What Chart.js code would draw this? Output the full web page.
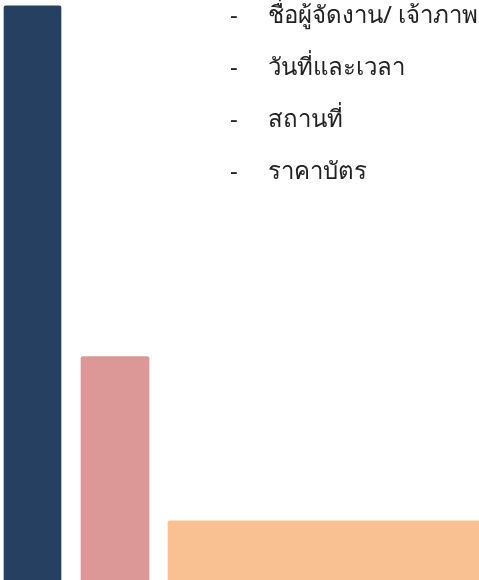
<!DOCTYPE html>
<html>
<head>
<meta charset="utf-8">
<script src="https://cdn.jsdelivr.net/npm/chart.js@4.4.1/dist/chart.umd.min.js"></script>
<style>
  html, body { margin: 0; padding: 0; background: #fff; overflow: hidden; }
  #wrap { position: relative; width: 479px; height: 580px; }
  #chart { position: absolute; left: 0; top: 0; }
  .notes { position: absolute; left: 230px; top: -10px; margin: 0; padding: 0; list-style: none;
    font-family: "Noto Sans", "DejaVu Sans", sans-serif; font-size: 24px; color: #222; }
  .notes li { height: 52px; line-height: 48px; white-space: nowrap; }
  .notes li span.dash { display: inline-block; width: 38px; }
</style>
</head>
<body>
<div id="wrap">
  <canvas id="chart" width="479" height="580"></canvas>
  <ul class="notes">
    <li><span class="dash">-</span>ชื่อผู้จัดงาน/ เจ้าภาพ</li>
    <li><span class="dash">-</span>วันที่และเวลา</li>
    <li><span class="dash">-</span>สถานที่</li>
    <li><span class="dash">-</span>ราคาบัตร</li>
  </ul>
</div>
<script>
// bar heights as share of the full height (0-100)
const categories = ['Bar 1', 'Bar 2', 'Bar 3'];
const values = [99, 38.5, 10.2];
const colors = ['#264061', '#db9896', '#f9c191'];

// horizontal placement on a 0-479 slide scale (centre, width)
const layout = [
  { center: 32.5, width: 57 },
  { center: 115, width: 68 },
  { center: 339, width: 342 }
];

const datasets = categories.map((name, i) => ({
  label: name,
  data: [{ x: layout[i].center, y: values[i] }],
  backgroundColor: colors[i],
  barThickness: layout[i].width,
  borderRadius: 2,
  borderSkipped: 'start',
  grouped: false
}));

new Chart(document.getElementById('chart'), {
  type: 'bar',
  data: { datasets },
  options: {
    responsive: false,
    animation: false,
    layout: { padding: 0 },
    plugins: { legend: { display: false }, tooltip: { enabled: false } },
    scales: {
      x: { type: 'linear', min: 0, max: 479, offset: false, display: false },
      y: { min: 0, max: 100, display: false }
    }
  }
});
</script>
</body>
</html>
